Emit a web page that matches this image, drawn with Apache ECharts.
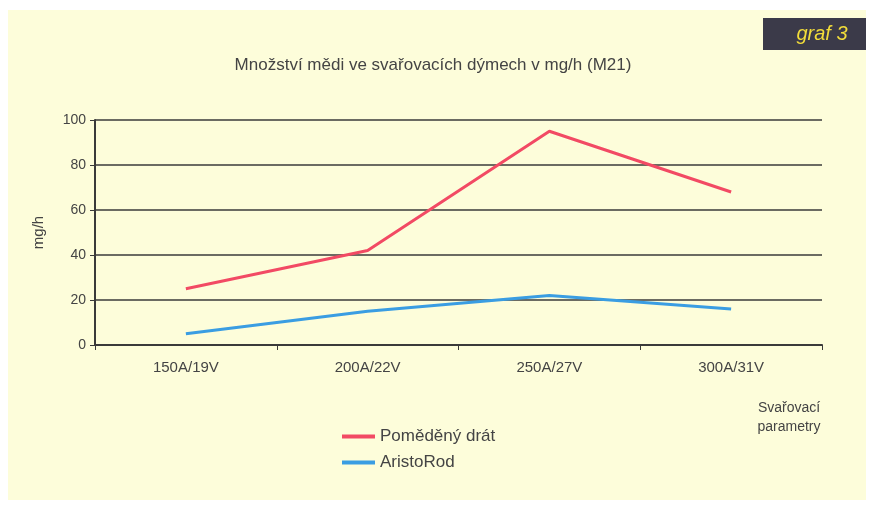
<!DOCTYPE html>
<html>
<head>
<meta charset="utf-8">
<script src="https://cdn.jsdelivr.net/npm/echarts@6/dist/echarts.min.js"></script>
<style>
  html, body { margin: 0; padding: 0; background: #ffffff; }
  #main { width: 874px; height: 505px; }
</style>
</head>
<body>
<div id="main"></div>
<script>
// data
var categories = ['150A/19V', '200A/22V', '250A/27V', '300A/31V'];
var pomedenyDrat = [25, 42, 95, 68];
var aristoRod = [5, 15, 22, 16];
var seriesNames = ['Poměděný drát', 'AristoRod'];

var myChart = echarts.init(document.getElementById('main'));

var font = 'Liberation Sans, Arial, sans-serif';

var option = {
    backgroundColor: '#ffffff',
    textStyle: { fontFamily: font },
    graphic: [
        {
            type: 'rect',
            shape: { x: 8, y: 10, width: 858, height: 490 },
            style: { fill: '#fdfdda' },
            z: -10
        },
        {
            type: 'rect',
            shape: { x: 763, y: 18, width: 103, height: 32 },
            style: { fill: '#3b3a49' }
        },
        {
            type: 'text',
            x: 822, y: 34,
            style: {
                text: 'graf 3',
                fill: '#f2dd3a',
                font: 'italic 20px ' + font,
                align: 'center',
                verticalAlign: 'middle'
            }
        },
        // x axis title sits below the last label
        {
            type: 'text',
            x: 789, y: 399,
            style: {
                text: 'Svařovací\nparametry',
                fill: '#444444',
                font: '14px ' + font,
                lineHeight: 19,
                align: 'center',
                verticalAlign: 'top'
            }
        }
    ],
    title: {
        text: 'Množství mědi ve svařovacích dýmech v mg/h (M21)',
        left: 428,
        textAlign: 'center',
        top: 52,
        textStyle: { fontSize: 17, fontWeight: 'normal', color: '#444444', fontFamily: font }
    },
    legend: {
        orient: 'vertical',
        left: 337,
        top: 423,
        itemWidth: 33,
        itemHeight: 4,
        itemGap: 9,
        icon: 'rect',
        textStyle: { fontSize: 17, color: '#444444', fontFamily: font },
        data: seriesNames
    },
    grid: {
        left: 95,
        right: 52,
        top: 120,
        bottom: 160,
        containLabel: false
    },
    xAxis: {
        type: 'category',
        data: categories,
        boundaryGap: true,
        axisLine: { lineStyle: { color: '#3a3a3a', width: 2 } },
        axisTick: { show: true, length: 5, lineStyle: { color: '#3a3a3a' } },
        axisLabel: { fontSize: 15, color: '#444444', margin: 15 }
    },
    yAxis: {
        type: 'value',
        min: 0,
        max: 100,
        interval: 20,
        name: 'mg/h',
        nameLocation: 'middle',
        nameRotate: 90,
        nameGap: 49,
        nameTextStyle: { fontSize: 15, color: '#444444' },
        axisLine: { show: true, lineStyle: { color: '#3a3a3a', width: 2 } },
        axisTick: { show: true, length: 5, lineStyle: { color: '#3a3a3a' } },
        axisLabel: { fontSize: 14, color: '#444444', margin: 9 },
        splitLine: { lineStyle: { color: '#3a3a3a', width: 1.6 } }
    },
    series: [
        {
            name: seriesNames[0],
            type: 'line',
            data: pomedenyDrat,
            symbol: 'none',
            color: '#f24a64',
            lineStyle: { width: 3 }
        },
        {
            name: seriesNames[1],
            type: 'line',
            data: aristoRod,
            symbol: 'none',
            color: '#3a9de2',
            lineStyle: { width: 3 }
        }
    ]
};

myChart.setOption(option);
</script>
</body>
</html>
